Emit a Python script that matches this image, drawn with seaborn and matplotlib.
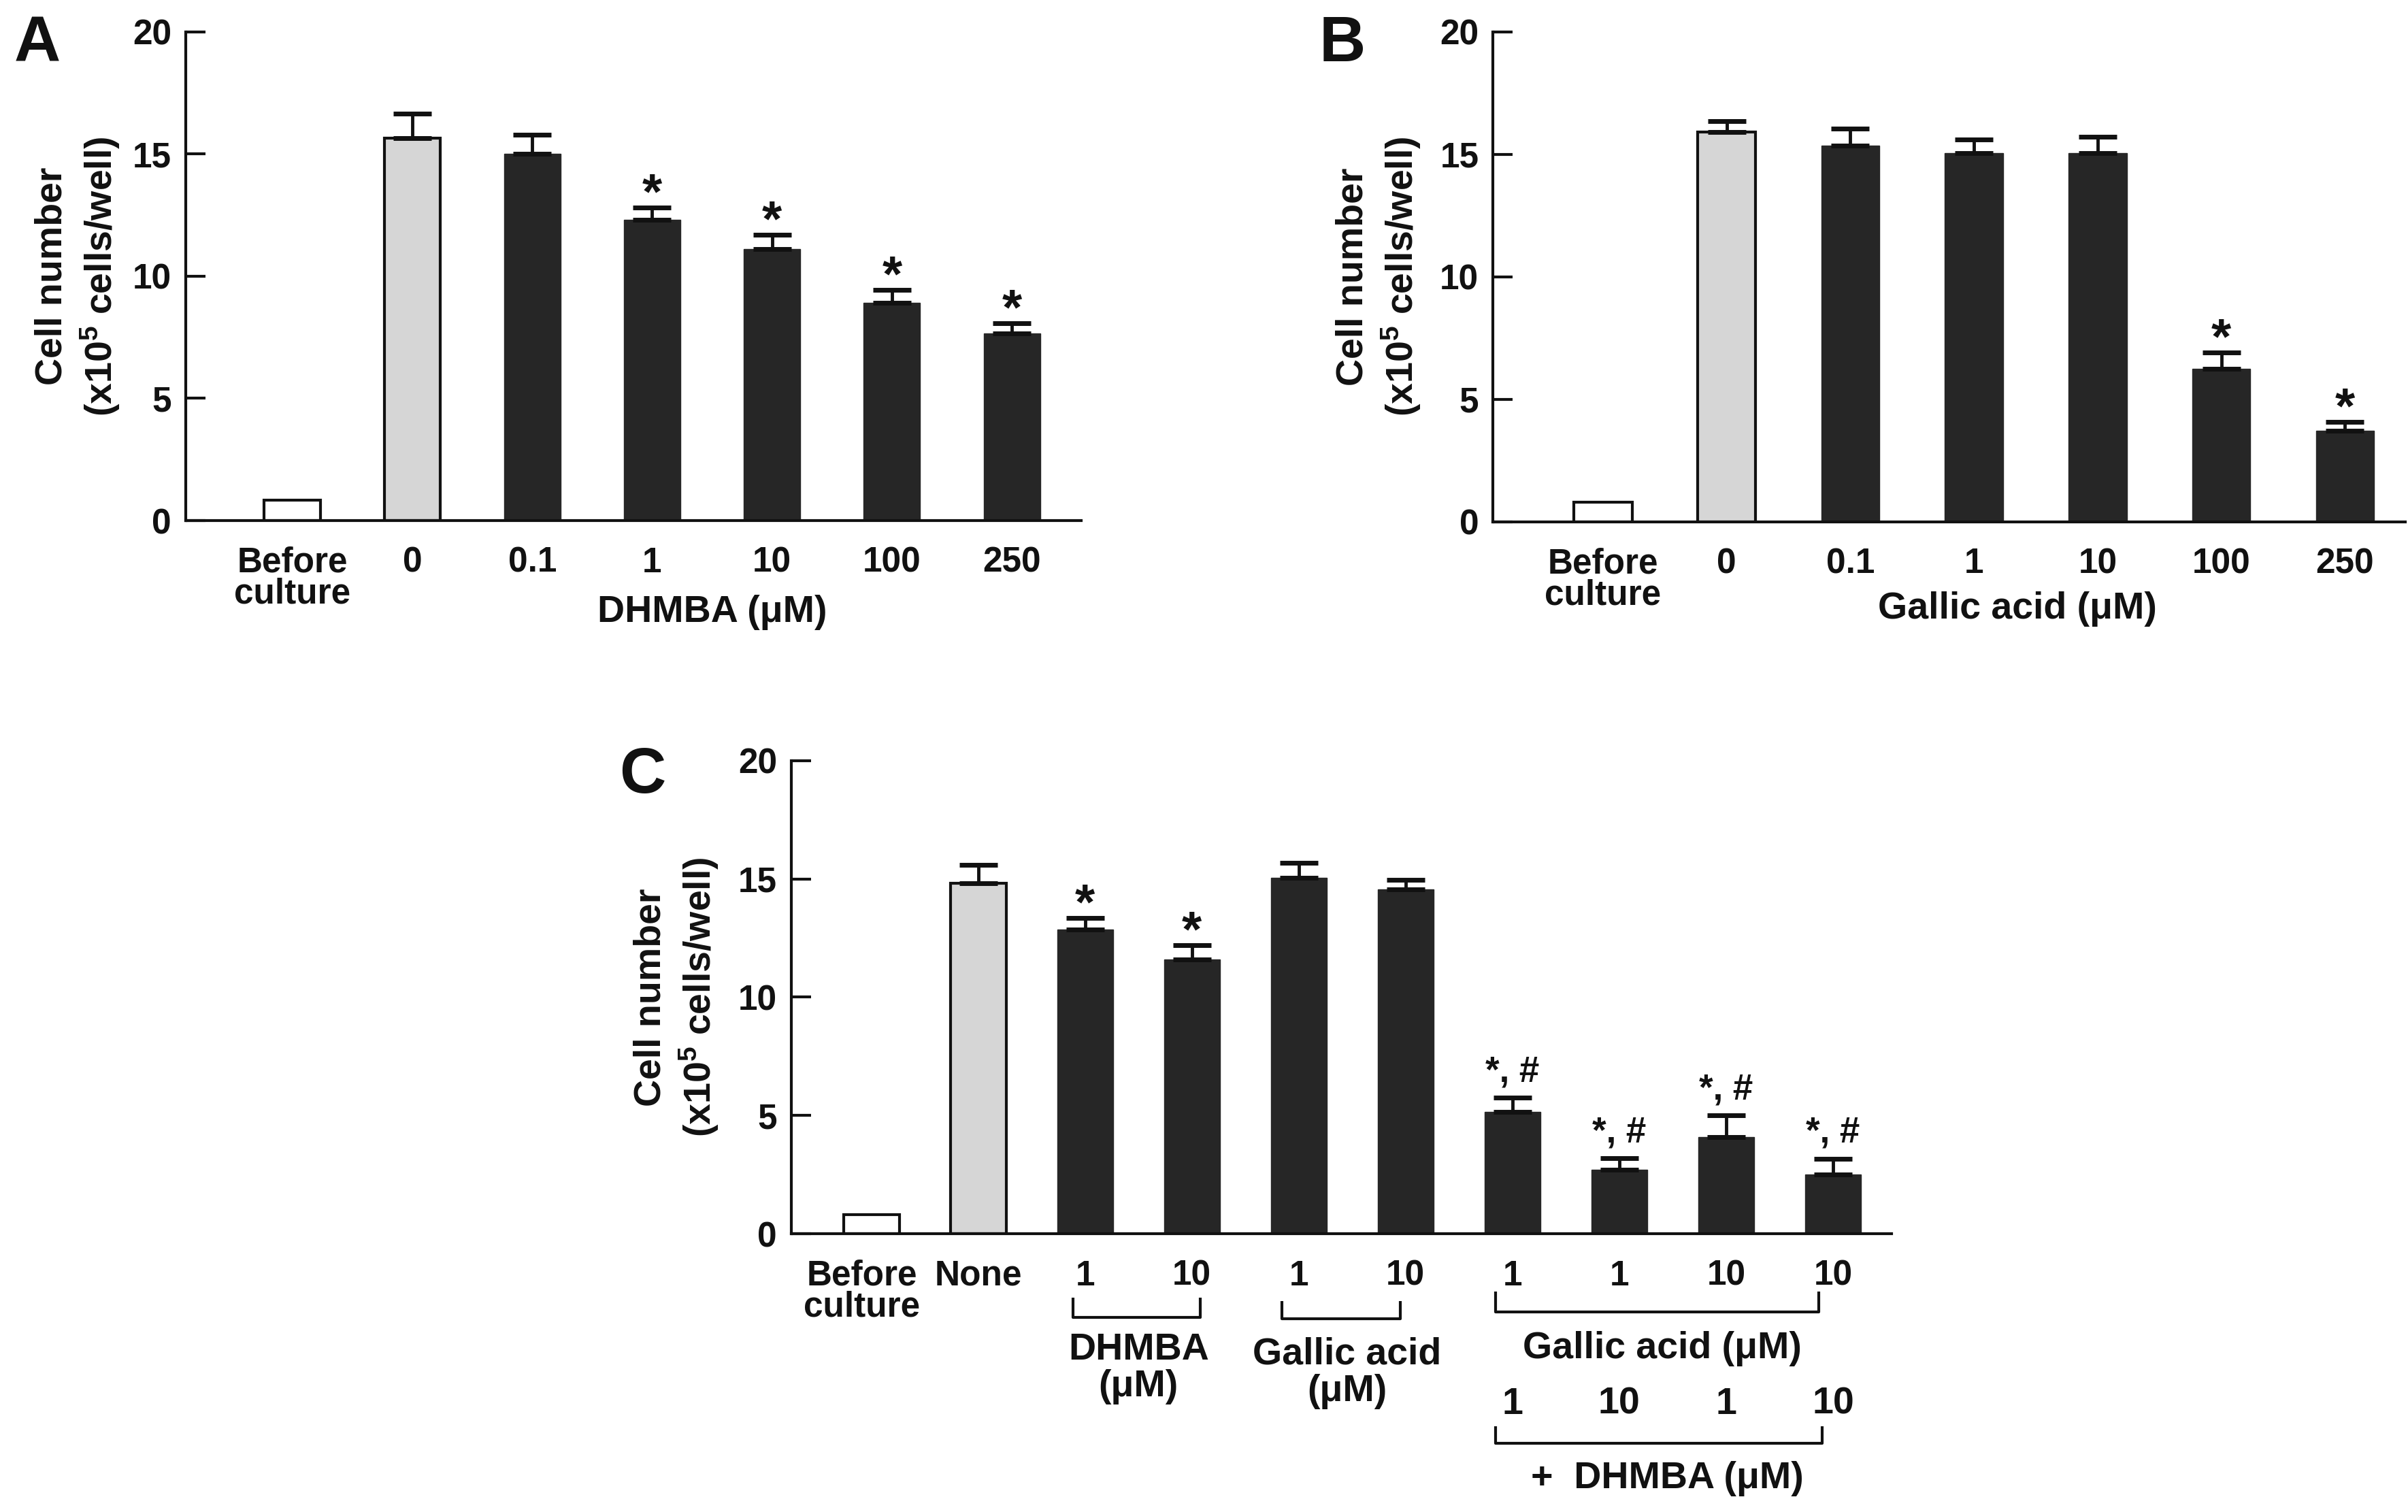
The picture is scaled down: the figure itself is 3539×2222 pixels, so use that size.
"""
Cell number bar charts (panels A, B, C) redrawn with seaborn.
"""

import matplotlib

matplotlib.use("Agg")
import matplotlib.pyplot as plt
import matplotlib.transforms as mtransforms
import pandas as pd
import seaborn as sns

# ---------------------------------------------------------------------------
# Data
# ---------------------------------------------------------------------------
A_LABELS = ["Before\nculture", "0", "0.1", "1", "10", "100", "250"]
A_MEANS = [0.85, 15.65, 15.0, 12.3, 11.1, 8.9, 7.65]
A_ERRS = [0, 1.0, 0.8, 0.5, 0.6, 0.55, 0.43]
A_SIG = ["", "", "", "*", "*", "*", "*"]
A_KIND = ["before", "control", "treated", "treated", "treated", "treated", "treated"]

B_LABELS = ["Before\nculture", "0", "0.1", "1", "10", "100", "250"]
B_MEANS = [0.8, 15.9, 15.35, 15.05, 15.05, 6.25, 3.7]
B_ERRS = [0, 0.45, 0.7, 0.55, 0.67, 0.65, 0.37]
B_SIG = ["", "", "", "", "", "*", "*"]
B_KIND = A_KIND

C_LABELS = ["Before\nculture", "None", "1", "10", "1", "10", "1", "1", "10", "10"]
C_MEANS = [0.8, 14.8, 12.85, 11.6, 15.05, 14.55, 5.15, 2.7, 4.1, 2.5]
C_ERRS = [0, 0.78, 0.5, 0.6, 0.62, 0.42, 0.6, 0.5, 0.9, 0.68]
C_SIG = ["", "", "*", "*", "", "", "*, #", "*, #", "*, #", "*, #"]
C_KIND = ["before", "control"] + ["treated"] * 8
C_DHMBA_ROW = ["1", "10", "1", "10"]

YLABEL = "Cell number\n(x10$^{5}$ cells/well)"

# ---------------------------------------------------------------------------
# Styling
# ---------------------------------------------------------------------------
sns.set_style("ticks")
plt.rcParams["font.family"] = ["Liberation Sans", "DejaVu Sans"]
plt.rcParams["font.weight"] = "bold"
plt.rcParams["mathtext.fontset"] = "custom"
plt.rcParams["mathtext.rm"] = "Liberation Sans:bold"
plt.rcParams["mathtext.default"] = "rm"

FILL = {"before": "#ffffff", "control": "#d6d6d6", "treated": "#262626"}
EDGE = {"before": "#111111", "control": "#111111", "treated": "#262626"}
INK = "#111111"
LW = 3.0
TICK_FS = 37
LABEL_FS = 40


def draw_panel(ax, labels, means, errs, sig, kind, width, xlim, sig_fs, sig_off):
    """Bars, upper error bars, significance marks and axis styling."""
    keys = [f"k{i}" for i in range(len(labels))]
    df = pd.DataFrame({"key": keys, "mean": means, "kind": kind})
    palette = {k: FILL[t] for k, t in zip(keys, kind)}
    sns.barplot(
        data=df, x="key", y="mean", hue="key", order=keys, hue_order=keys,
        palette=palette, legend=False, width=width, saturation=1,
        errorbar=None, ax=ax,
    )
    for patch, t in zip(ax.patches, kind):
        patch.set_edgecolor(EDGE[t])
        patch.set_linewidth(LW if t != "treated" else 1.0)

    xs = [i for i, e in enumerate(errs) if e > 0]
    ax.errorbar(
        xs, [means[i] for i in xs],
        yerr=[[0] * len(xs), [errs[i] for i in xs]],
        fmt="none", ecolor=INK, elinewidth=3.5, capsize=20, capthick=5,
        zorder=3,
    )
    for i, s in enumerate(sig):
        if s:
            ax.annotate(
                s, (i, means[i] + errs[i]), xytext=(0, sig_off[s]),
                textcoords="offset points", ha="center", va="baseline",
                fontsize=sig_fs[s], fontweight="bold", color=INK,
                annotation_clip=False,
            )

    ax.set_ylim(0, 20)
    ax.set_xlim(*xlim)
    ax.set_yticks([0, 5, 10, 15, 20])
    ax.set_xticks(range(len(labels)))
    ax.set_xticklabels(labels)
    for lab in ax.get_xticklabels():
        lab.set_linespacing(0.92)
    ax.tick_params(axis="y", direction="in", length=21, width=LW, pad=15,
                   labelsize=TICK_FS, colors=INK)
    ax.tick_params(axis="x", length=0, pad=27, labelsize=TICK_FS, colors=INK)
    ax.set_xlabel("")
    ax.set_ylabel(YLABEL, fontsize=LABEL_FS, fontweight="bold", color=INK,
                  linespacing=1.25, va="center")
    sns.despine(ax=ax)
    for side in ("left", "bottom"):
        ax.spines[side].set_linewidth(LW)
        ax.spines[side].set_color(INK)


def bracket(ax, x0, x1, y_top, y_bot):
    """Square bracket below the axis (x in data, y in axes fraction)."""
    trans = mtransforms.blended_transform_factory(ax.transData, ax.transAxes)
    ax.plot([x0, x0, x1, x1], [y_top, y_bot, y_bot, y_top], color=INK,
            lw=LW, transform=trans, clip_on=False, solid_capstyle="butt")


def under_text(ax, x, y, s, **kw):
    trans = mtransforms.blended_transform_factory(ax.transData, ax.transAxes)
    ax.text(x, y, s, transform=trans, ha="center", va="center",
            fontsize=LABEL_FS, fontweight="bold", color=INK, clip_on=False, **kw)


fig = plt.figure(figsize=(35.39, 22.22), dpi=100)
ax_a = fig.add_axes([0.0771, 0.6557, 0.372, 0.3233])
ax_b = fig.add_axes([0.620, 0.655, 0.379, 0.324])
ax_c = fig.add_axes([0.3286, 0.184, 0.457, 0.313])

star_fs = {"*": 54, "*, #": 38}
star_off = {"*": -1, "*, #": 17}

# Panel A
draw_panel(ax_a, A_LABELS, A_MEANS, A_ERRS, A_SIG, A_KIND, 0.47,
           (-0.89, 6.58), star_fs, star_off)
ax_a.yaxis.set_label_coords(-0.120, 0.5)
under_text(ax_a, 3.5, -0.188, "DHMBA (μM)")

# Panel B
draw_panel(ax_b, B_LABELS, B_MEANS, B_ERRS, B_SIG, B_KIND, 0.47,
           (-0.89, 6.49), star_fs, star_off)
ax_b.yaxis.set_label_coords(-0.125, 0.5)
under_text(ax_b, 3.35, -0.179, "Gallic acid (μM)")

# Panel C
draw_panel(ax_c, C_LABELS, C_MEANS, C_ERRS, C_SIG, C_KIND, 0.52,
           (-0.75, 9.55), star_fs, star_off)
ax_c.yaxis.set_label_coords(-0.104, 0.5)
# nudge the "Before culture" label away from "None"
first = ax_c.get_xticklabels()[0]
first.set_transform(first.get_transform()
                    + mtransforms.ScaledTranslation(-0.14, 0, fig.dpi_scale_trans))

bracket(ax_c, 2 - 0.11, 3 + 0.08, -0.135, -0.176)
bracket(ax_c, 4 - 0.16, 5 - 0.05, -0.142, -0.180)
bracket(ax_c, 6 - 0.16, 9 - 0.13, -0.122, -0.165)
bracket(ax_c, 6 - 0.16, 9 - 0.10, -0.406, -0.442)

under_text(ax_c, 2.5, -0.285, "DHMBA\n(μM)", linespacing=1.05)
under_text(ax_c, 4.45, -0.294, "Gallic acid\n(μM)", linespacing=1.05)
under_text(ax_c, 7.4, -0.243, "Gallic acid (μM)")
for i, s in enumerate(C_DHMBA_ROW):
    under_text(ax_c, 6 + i, -0.360, s)
under_text(ax_c, 7.45, -0.518, "+  DHMBA (μM)")

# Panel letters
for letter, x, y in [("A", 55, 66), ("B", 1973, 66), ("C", 944, 1140)]:
    fig.text(x / 3539, 1 - y / 2222, letter, ha="center", va="center",
             fontsize=68, fontweight="bold", color=INK)

fig.savefig("out.png", dpi=100)
plt.close(fig)
